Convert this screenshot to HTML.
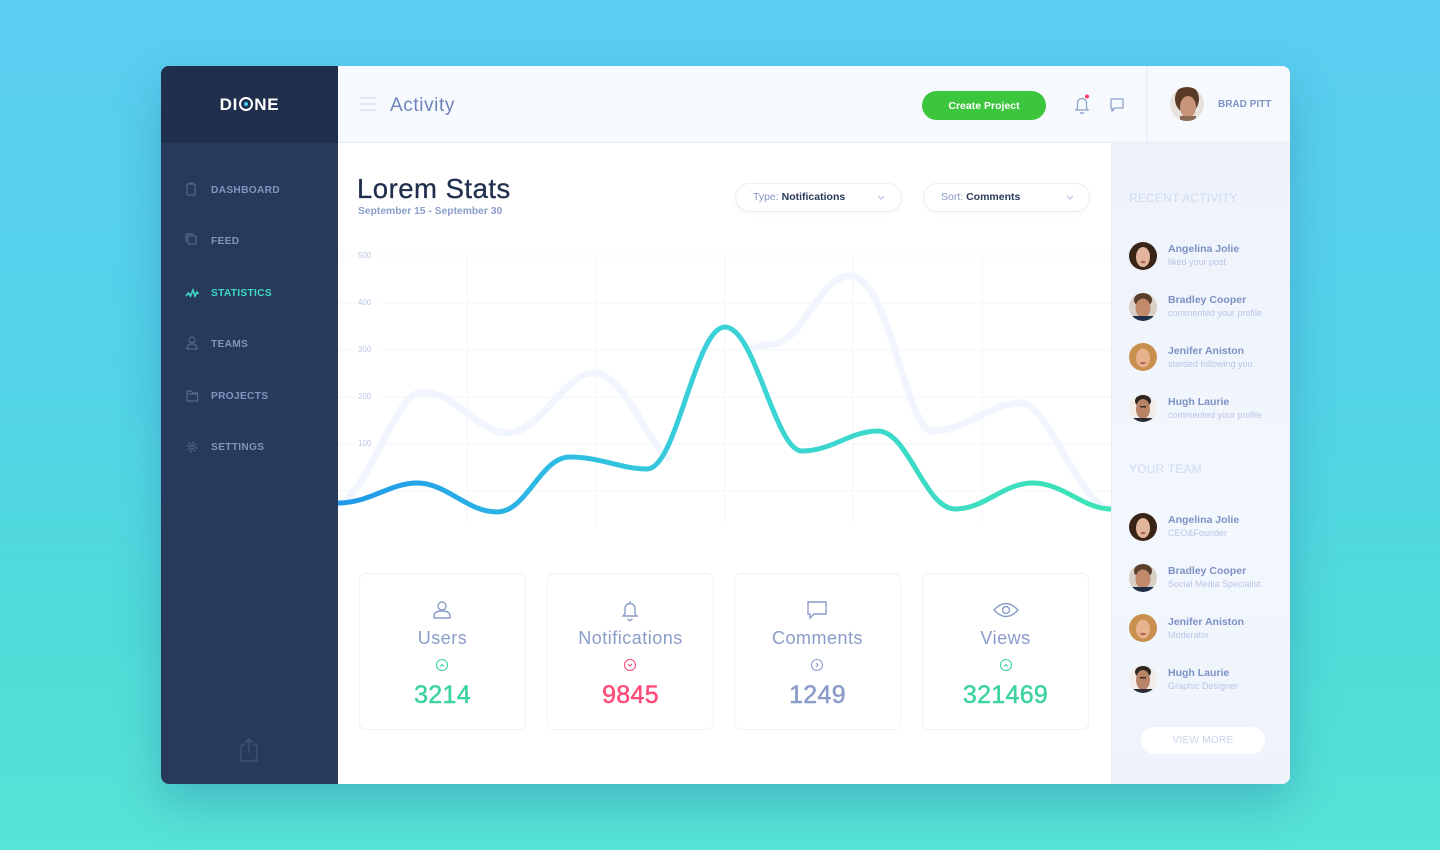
<!DOCTYPE html>
<html><head><meta charset="utf-8"><style>
*{margin:0;padding:0;box-sizing:border-box}
html,body{width:1440px;height:850px;overflow:hidden}
body{background:linear-gradient(180deg,#5bcdf1 0%,#52d3e8 45%,#4fdcd8 75%,#57e3d6 100%);font-family:"Liberation Sans",sans-serif;position:relative}
.abs{position:absolute}
.card{position:absolute;left:161px;top:66px;width:1129px;height:718px;border-radius:8px;overflow:hidden;background:#fff;box-shadow:0 18px 45px rgba(20,80,140,.28)}
.side{position:absolute;left:0;top:0;width:177px;height:718px;background:#283a5b}
.logo{position:absolute;left:0;top:0;width:177px;height:77px;background:#1f2f4c}
.nav{position:absolute;left:50px;font-size:10.2px;font-weight:bold;color:#8194bd;letter-spacing:.3px}
.top{position:absolute;left:177px;top:0;width:952px;height:77px;background:#f6f9fe;border-bottom:1px solid #e6ecf6}
.rp{position:absolute;left:950px;top:77px;width:179px;height:641px;background:linear-gradient(180deg,#edf2fb,#f3f7fe 60%,#eef3fb);box-shadow:inset 1px 0 0 #e9eef7}
.pill{position:absolute;height:29px;border:1px solid #e9eef7;border-radius:15px;background:#fff;box-shadow:0 2px 4px rgba(140,160,200,.08);font-size:10.5px;line-height:27px;padding-left:17px;color:#2a3a5a}
.pill b{font-weight:bold}
.pill span{color:#8496c6}
.stat{position:absolute;top:507px;width:167px;height:157px;border:1px solid #eef2fa;border-radius:7px;background:#fff}
.stat .lb{position:absolute;top:54px;width:100%;text-align:center;font-size:18px;color:#8a9cc9;letter-spacing:.5px}
.stat .num{position:absolute;top:107px;width:100%;text-align:center;font-size:25px;letter-spacing:.3px;-webkit-text-stroke:.5px currentColor}
.nm{position:absolute;left:1007px;font-size:10.5px;font-weight:bold;color:#7d91c4}
.sb{position:absolute;left:1007px;font-size:9px;color:#b9c6e6}
.hd{position:absolute;left:968px;font-size:12px;color:#d0daef;letter-spacing:.2px}
.ylab{position:absolute;left:197px;font-size:8px;color:#bcc7e6}
</style></head><body>
<div class="card">
  <div class="side">
    <div class="logo"></div>
    <div class="abs" style="left:0;top:29px;width:177px;text-align:center;color:#fff;font-weight:bold;font-size:17px;letter-spacing:.8px">DI<span style="position:relative;display:inline-block;width:14px;height:14px;border:2.4px solid #fff;border-radius:50%;vertical-align:-1px;margin:0 1px"><span style="position:absolute;left:2.5px;top:2.5px;width:4.5px;height:4.5px;border-radius:50%;background:#3ec8f0"></span></span>NE</div>
    <svg class="abs" style="left:0;top:0" width="177" height="718">
      <g fill="none" stroke="#55678e" stroke-width="1.2">
        <rect x="26" y="118" width="8" height="11" rx="1"/><line x1="28" y1="117" x2="32" y2="117"/>
        <rect x="27" y="170" width="8" height="8" rx="1"/><path d="M25 176 v-7 a1 1 0 0 1 1 -1 h7"/>
        <circle cx="31" cy="274" r="3"/><path d="M26 283 q0 -5 5 -5 q5 0 5 5 z"/>
        <path d="M26 325 h4 l1.5 2 h5 v8 h-10.5 z"/><line x1="26" y1="328" x2="36.5" y2="328"/>
        <circle cx="31" cy="381" r="2"/><circle cx="31" cy="381" r="4.5" stroke-dasharray="2 1.5"/>
        <path d="M80 679 v16 h16 v-16 M84 679 h-4 M92 679 h4 M88 687 v-13 M84 677 l4 -4 l4 4" stroke="#3f5278" stroke-width="1.4"/>
      </g>
      <path d="M25 230 l2.5 -3 l2 3 l2.5 -6 l2 6 l2 -4 l1.5 2" fill="none" stroke="#3ed9c6" stroke-width="1.6"/>
    </svg>
    <div class="nav" style="top:119px">DASHBOARD</div>
    <div class="nav" style="top:170px">FEED</div>
    <div class="nav" style="top:222px;color:#3ed9c6">STATISTICS</div>
    <div class="nav" style="top:273px">TEAMS</div>
    <div class="nav" style="top:325px">PROJECTS</div>
    <div class="nav" style="top:376px">SETTINGS</div>
  </div>
  <div class="top">
    <svg class="abs" style="left:0;top:0" width="952" height="77">
      <g stroke="#d9e1f0" stroke-width="1.5"><line x1="22" y1="32" x2="38" y2="32"/><line x1="22" y1="38" x2="38" y2="38"/><line x1="22" y1="44" x2="38" y2="44"/></g>
      <rect x="584" y="25" width="124" height="29" rx="14.5" fill="#3bc63d"/>
      <g fill="none" stroke="#8ea2cc" stroke-width="1.3">
        <path d="M738 44 h12 l-1.5 -2 v-5 a4.5 4.5 0 0 0 -9 0 v5 z"/><path d="M742.5 46 a1.5 1.5 0 0 0 3 0"/>
        <path d="M773 33 h12 v9 h-8 l-3 3 v-3 h-1 z"/>
      </g>
      <circle cx="749" cy="30.5" r="2" fill="#ff3d6a"/>
      <line x1="809" y1="0" x2="809" y2="77" stroke="#e6ecf6"/>
      <defs><clipPath id="cb"><circle cx="849" cy="38" r="17"/></clipPath></defs>
      <g clip-path="url(#cb)"><rect x="830" y="19" width="40" height="40" fill="#e9e2dc"/><ellipse cx="849" cy="33" rx="12" ry="14" fill="#5a3b26"/><ellipse cx="850" cy="41" rx="8" ry="11" fill="#c7957a"/><rect x="842" y="50" width="16" height="8" fill="#8a6a55"/></g>
    </svg>
    <div class="abs" style="left:52px;top:29px;font-size:19px;color:#6d84b8;letter-spacing:.6px">Activity</div>
    <div class="abs" style="left:584px;top:34px;width:124px;text-align:center;font-size:10.5px;font-weight:bold;color:#fff">Create Project</div>
    <div class="abs" style="left:880px;top:33px;font-size:10px;font-weight:bold;color:#7f93c2">BRAD PITT</div>
  </div>

  <div class="abs" style="left:196px;top:107px;font-size:27.5px;color:#1f2f4d;letter-spacing:.5px;-webkit-text-stroke:.3px #1f2f4d">Lorem Stats</div>
  <div class="abs" style="left:197px;top:140px;font-size:10.3px;font-weight:bold;color:#8a9cc9">September 15 - September 30</div>
  <div class="pill" style="left:574px;top:117px;width:167px"><span>Type: </span><b>Notifications</b></div>
  <div class="pill" style="left:762px;top:117px;width:167px"><span>Sort: </span><b>Comments</b></div>

  <div class="ylab" style="top:185px">500</div>
  <div class="ylab" style="top:232px">400</div>
  <div class="ylab" style="top:279px">300</div>
  <div class="ylab" style="top:326px">200</div>
  <div class="ylab" style="top:373px">100</div>

  <svg class="abs" style="left:0;top:0" width="1129" height="718">
    <g transform="translate(-161,-66)" clip-path="url(#mc2)">
      <g stroke="#f2f5fb" stroke-width="1">
        <line x1="380" y1="256" x2="1111" y2="256"/><line x1="380" y1="303" x2="1111" y2="303"/><line x1="380" y1="350" x2="1111" y2="350"/><line x1="380" y1="397" x2="1111" y2="397"/><line x1="380" y1="444" x2="1111" y2="444"/><line x1="338" y1="491" x2="1111" y2="491"/>
        <line x1="338" y1="256" x2="355" y2="256"/><line x1="338" y1="303" x2="355" y2="303"/><line x1="338" y1="350" x2="355" y2="350"/><line x1="338" y1="397" x2="355" y2="397"/><line x1="338" y1="444" x2="355" y2="444"/>
        <line x1="467" y1="256" x2="467" y2="525"/><line x1="596" y1="256" x2="596" y2="525"/><line x1="725" y1="256" x2="725" y2="525"/><line x1="853" y1="256" x2="853" y2="525"/><line x1="982" y1="256" x2="982" y2="525"/>
      </g>
      <g fill="none" stroke="#f1f6fe" stroke-width="7" stroke-linecap="round">
        <path d="M340 505 C375 480, 395 392, 423 392 C455 392, 478 433, 508 433 C540 433, 565 373, 593 373 C625 373, 645 440, 668 458"/>
        <path d="M748 350 C760 344, 768 346, 778 343 C805 335, 820 276, 850 276 C890 276, 905 431, 933 431 C965 431, 990 403, 1020 403 C1050 403, 1075 500, 1111 510"/>
      </g>
      <path d="M338 503 C370 503, 390 483, 417 483 C447 483, 467 512, 497 512 C527 512, 540 457, 570 457 C600 457, 622 469, 647 469 C677 469, 695 327, 725 327 C755 327, 775 451, 802 451 C832 451, 850 431, 878 431 C908 431, 925 509, 955 509 C985 509, 1003 483, 1033 483 C1063 483, 1083 509, 1111 509" fill="none" stroke-width="5" style="stroke:url(#lg2)"/>
    </g>
  </svg>

  <div class="stat" style="left:198px"><div class="lb">Users</div><div class="num" style="color:#3dd3a0">3214</div></div>
  <div class="stat" style="left:386px"><div class="lb">Notifications</div><div class="num" style="color:#fe4c78">9845</div></div>
  <div class="stat" style="left:573px"><div class="lb">Comments</div><div class="num" style="color:#8a9cc9">1249</div></div>
  <div class="stat" style="left:761px"><div class="lb">Views</div><div class="num" style="color:#3dd3a0">321469</div></div>
  <svg class="abs" style="left:0;top:0" width="950" height="718">
    <g transform="translate(-161,-66)" fill="none" stroke-width="1.4">
      <g stroke="#8a9cc9">
        <circle cx="442" cy="606" r="4"/><path d="M434 618 v-2 q0 -5 8 -5 q8 0 8 5 v2 z"/>
        <path d="M623 616 h14 l-2 -2.5 v-5 a5 5 0 0 0 -10 0 v5 z"/><path d="M628 618.5 a2 2 0 0 0 4 0"/><line x1="630" y1="601" x2="630" y2="603"/>
        <path d="M808 602 h18 v12 h-12 l-4 4 v-4 h-2 z"/>
        <path d="M994 610 q12 -13 24 0 q-12 13 -24 0 z"/><circle cx="1006" cy="610" r="3.5"/>
      </g>
      <circle cx="442" cy="665" r="5.5" stroke="#3dd3a0" stroke-width="1.1"/><path d="M440 666.5 l2 -2 l2 2" stroke="#3dd3a0" stroke-width="1.1"/>
      <circle cx="630" cy="665" r="5.5" stroke="#fe4c78" stroke-width="1.1"/><path d="M628 664 l2 2 l2 -2" stroke="#fe4c78" stroke-width="1.1"/>
      <circle cx="817" cy="665" r="5.5" stroke="#8a9cc9" stroke-width="1.1"/><path d="M816 663 l2 2 l-2 2" stroke="#8a9cc9" stroke-width="1.1"/>
      <circle cx="1006" cy="665" r="5.5" stroke="#3dd3a0" stroke-width="1.1"/><path d="M1004 666.5 l2 -2 l2 2" stroke="#3dd3a0" stroke-width="1.1"/>
      <path d="M878 196 l3 3 l3 -3" stroke="#b0bedd" stroke-width="1"/>
      <path d="M1067 196 l3 3 l3 -3" stroke="#b0bedd" stroke-width="1"/>
    </g>
  </svg>

  <div class="rp"></div>
  <div class="hd" style="top:125px">RECENT ACTIVITY</div>
  <div class="hd" style="top:396px">YOUR TEAM</div>

  <div class="nm" style="top:177px">Angelina Jolie</div><div class="sb" style="top:191px">liked your post</div>
  <div class="nm" style="top:228px">Bradley Cooper</div><div class="sb" style="top:242px">commented your profile</div>
  <div class="nm" style="top:279px">Jenifer Aniston</div><div class="sb" style="top:293px">starded following you</div>
  <div class="nm" style="top:330px">Hugh Laurie</div><div class="sb" style="top:344px">commented your profile</div>

  <div class="nm" style="top:448px">Angelina Jolie</div><div class="sb" style="top:462px">CEO&amp;Founder</div>
  <div class="nm" style="top:499px">Bradley Cooper</div><div class="sb" style="top:513px">Social Media Specialist</div>
  <div class="nm" style="top:550px">Jenifer Aniston</div><div class="sb" style="top:564px">Moderator</div>
  <div class="nm" style="top:601px">Hugh Laurie</div><div class="sb" style="top:615px">Graphic Designer</div>

  <div class="abs" style="left:980px;top:661px;width:124px;height:27px;border-radius:14px;background:#fff;text-align:center;font-size:10px;line-height:27px;color:#c9d3ea;letter-spacing:.3px">VIEW MORE</div>

  <svg class="abs" style="left:0;top:0" width="1129" height="718">
    <defs>
      <clipPath id="a1"><circle cx="0" cy="0" r="14"/></clipPath>
      <g id="aj"><g clip-path="url(#a1)"><rect x="-15" y="-15" width="30" height="30" fill="#3a2418"/><ellipse cx="0" cy="1" rx="7" ry="10" fill="#e3b59d"/><ellipse cx="0" cy="6" rx="2.5" ry="1.3" fill="#b5655a"/></g></g>
      <g id="bc"><g clip-path="url(#a1)"><rect x="-15" y="-15" width="30" height="30" fill="#d9cfc7"/><ellipse cx="0" cy="-7" rx="9" ry="7" fill="#5a3f2c"/><ellipse cx="0" cy="1" rx="7.5" ry="9.5" fill="#c28a6a"/><rect x="-15" y="9" width="30" height="8" fill="#1f2f4a"/></g></g>
      <g id="ja"><g clip-path="url(#a1)"><rect x="-15" y="-15" width="30" height="30" fill="#c98f4e"/><ellipse cx="0" cy="1" rx="7" ry="9.5" fill="#e8b28d"/><ellipse cx="0" cy="6" rx="3" ry="1.2" fill="#b66a5c"/></g></g>
      <g id="hl"><g clip-path="url(#a1)"><rect x="-15" y="-15" width="30" height="30" fill="#f1ece8"/><ellipse cx="0" cy="-7" rx="8" ry="6" fill="#2d2620"/><ellipse cx="0" cy="1" rx="7" ry="10" fill="#b88468"/><rect x="-3" y="-2" width="6" height="1.5" fill="#3a2a20"/><rect x="-12" y="10" width="24" height="6" fill="#2a2a35"/></g></g>
    </defs>
    <use href="#aj" x="982" y="190"/>
    <use href="#bc" x="982" y="241"/>
    <use href="#ja" x="982" y="291"/>
    <use href="#hl" x="982" y="342"/>
    <use href="#aj" x="982" y="461"/>
    <use href="#bc" x="982" y="512"/>
    <use href="#ja" x="982" y="562"/>
    <use href="#hl" x="982" y="613"/>
  </svg>
</div>
<svg class="abs" style="left:0;top:0;pointer-events:none" width="0" height="0">
  <defs>
    <linearGradient id="lg2" x1="338" y1="0" x2="1111" y2="0" gradientUnits="userSpaceOnUse">
      <stop offset="0" stop-color="#1f98ea"/><stop offset=".3" stop-color="#2fbde3"/><stop offset=".5" stop-color="#3bd2d8"/><stop offset="1" stop-color="#3fe3b5"/>
    </linearGradient>
    <clipPath id="mc2"><rect x="338" y="143" width="773" height="641"/></clipPath>
  </defs>
</svg>
</body></html>
